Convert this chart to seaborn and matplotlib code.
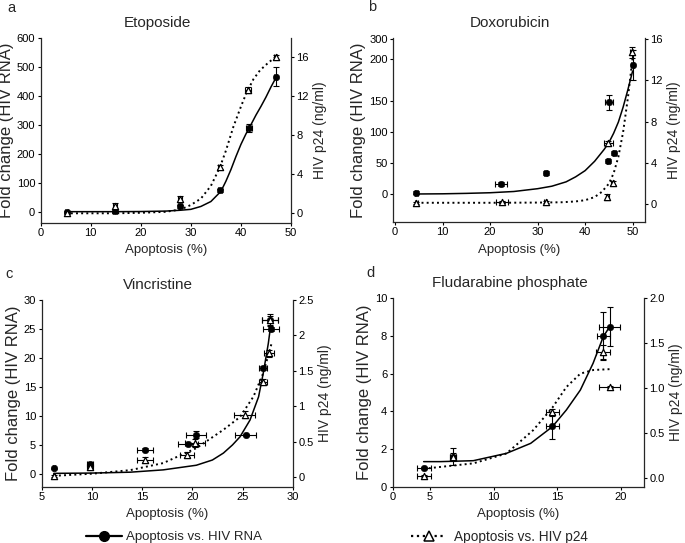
import matplotlib
matplotlib.use("Agg")
import matplotlib.pyplot as plt
import seaborn as sns
from matplotlib.lines import Line2D

# ---- panel a: Etoposide ----
a_rna_x = [5.2, 14.9, 27.8, 35.8, 41.6, 47.0]
a_rna_y = [0, 4, 18, 73, 289, 465]
a_rna_xerr = [0.3, 0.4, 0.4, 0.4, 0.6, 0.3]
a_rna_yerr = [3, 4, 5, 6, 14, 33]
a_p24_x = [5.2, 14.9, 27.8, 35.8, 41.5, 47.0]
a_p24_y = [0.0, 0.7, 1.5, 4.7, 12.6, 16.0]
a_p24_xerr = [0.3, 0.4, 0.4, 0.3, 0.6, 0.3]
a_p24_yerr = [0.1, 0.3, 0.3, 0.2, 0.3, 0.2]
a_fit_rna_x = [5, 10, 15, 20, 25, 28, 30, 32, 34, 36, 37, 38, 39, 40, 41, 42, 43, 44, 45, 46, 47]
a_fit_rna_y = [0, 0, 0, 0.5, 2, 5, 8, 18, 35, 70, 105, 145, 190, 232, 268, 300, 333, 363, 395, 430, 462]
a_fit_p24_x = [5, 10, 15, 20, 25, 28, 30, 32, 34, 35.8, 37, 38.5, 40, 41.1, 42.5, 43.8, 45.5, 47]
a_fit_p24_y = [0, 0, 0, 0.05, 0.15, 0.4, 0.85, 1.5, 2.8, 4.7, 6.4, 8.85, 10.9, 12.3, 13.7, 14.6, 15.4, 16.0]

# ---- panel b: Doxorubicin ----
b_rna_x = [4.5, 22.3, 31.7, 45.0, 44.9, 46.1, 50.0]
b_rna_y = [2.6, 16, 34, 148, 54, 66, 208]
b_rna_xerr = [0.3, 1.3, 0.3, 0.9, 0.3, 0.3, 0.3]
b_rna_yerr = [2, 3, 3, 12, 3, 3, 24]
b_p24_x = [4.5, 22.5, 31.7, 44.9, 44.7, 45.8, 49.8]
b_p24_y = [0.15, 0.25, 0.2, 5.9, 0.7, 2.1, 14.7]
b_p24_xerr = [0.3, 1.3, 0.3, 0.9, 0.3, 0.3, 0.3]
b_p24_yerr = [0.1, 0.1, 0.1, 0.2, 0.3, 0.2, 0.5]
b_fit_rna_x = [4.5, 10, 15, 20, 25, 30, 33, 36, 38, 40, 42, 44, 45, 46, 47, 48, 49, 50]
b_fit_rna_y = [0.5, 0.8, 1.5, 2.5, 4.5, 9, 13, 20, 28, 38, 53, 72, 83, 98, 116, 140, 168, 198]
b_fit_p24_x = [4.5, 10, 20, 30, 35, 38, 40, 42, 43.5, 45, 46, 47, 48, 49, 50]
b_fit_p24_y = [0.15, 0.15, 0.15, 0.17, 0.2, 0.28, 0.4, 0.7, 1.2, 2.0, 3.0, 4.6, 7.0, 10.3, 14.2]
b_left_ticks = [0, 50, 100, 150, 217, 250]
b_left_labels = ["0", "50", "100", "150", "200", "300"]

# ---- panel c: Vincristine ----
c_rna_x = [6.2, 9.8, 15.3, 19.6, 20.4, 25.3, 27.0, 27.8, 27.7]
c_rna_y = [1.0, 1.7, 4.2, 5.2, 6.8, 6.7, 18.3, 25.0, 26.5]
c_rna_xerr = [0.1, 0.3, 0.8, 1.0, 1.0, 1.0, 0.4, 0.8, 0.8]
c_rna_yerr = [0.1, 0.3, 0.2, 0.2, 0.6, 0.2, 0.4, 0.4, 0.8]
c_p24_x = [6.2, 9.8, 15.3, 19.5, 20.3, 25.2, 27.0, 27.6, 27.7]
c_p24_y = [0.02, 0.14, 0.25, 0.32, 0.48, 0.88, 1.35, 1.75, 2.22]
c_p24_xerr = [0.1, 0.3, 0.8, 0.7, 1.0, 1.0, 0.4, 0.5, 0.8]
c_p24_yerr = [0.01, 0.03, 0.03, 0.03, 0.06, 0.05, 0.03, 0.05, 0.08]
c_fit_rna_x = [6.2, 10, 13.8, 17.1, 20.4, 22, 23.1, 24, 24.75, 25.75, 26.6, 27.07, 27.57, 27.8]
c_fit_rna_y = [0.1, 0.15, 0.3, 0.7, 1.5, 2.4, 3.6, 5.0, 6.4, 9.3, 13.3, 17.4, 22.5, 25.5]
c_fit_p24_x = [6.2, 10, 13.8, 17.1, 20.4, 23.1, 24.75, 26.1, 27.07, 27.9]
c_fit_p24_y = [0.02, 0.05, 0.1, 0.2, 0.41, 0.67, 0.85, 1.14, 1.47, 1.89]

# ---- panel d: Fludarabine phosphate ----
d_rna_x = [4.5, 6.8, 14.6, 18.6, 19.1]
d_rna_y = [1.0, 1.6, 3.2, 8.0, 8.5]
d_rna_xerr = [0.55, 0.2, 0.5, 0.5, 0.8]
d_rna_yerr = [0.05, 0.45, 0.65, 1.25, 1.05]
d_p24_x = [4.5, 6.8, 14.6, 18.6, 19.1]
d_p24_y = [0.02, 0.23, 0.73, 1.40, 1.01]
d_p24_xerr = [0.55, 0.2, 0.5, 0.55, 0.8]
d_p24_yerr = [0.01, 0.04, 0.04, 0.08, 0.01]
d_fit_rna_x = [4.5, 5.8, 8.4, 11.0, 12.9, 14.6, 15.7, 16.8, 17.8, 18.6, 19.1]
d_fit_rna_y = [1.33, 1.33, 1.38, 1.77, 2.3, 3.18, 4.07, 5.13, 6.55, 7.96, 8.49]
d_fit_p24_x = [4.5, 5.8, 8.4, 11.0, 13.1, 14.6, 15.7, 16.8, 17.8, 19.1]
d_fit_p24_y = [0.1, 0.12, 0.16, 0.27, 0.53, 0.78, 1.01, 1.16, 1.2, 1.21]
d_x_ticks = [2.1, 5, 10, 15, 20]
d_x_labels = ["0", "5", "10", "15", "20"]

sns.set_theme(style="ticks")
plt.rcParams["font.family"] = ["Liberation Sans", "DejaVu Sans"]
plt.rcParams["xtick.major.size"] = 2.5
plt.rcParams["ytick.major.size"] = 2.5
plt.rcParams["xtick.major.width"] = 0.8
plt.rcParams["ytick.major.width"] = 0.8
plt.rcParams["axes.linewidth"] = 0.9

fig = plt.figure(figsize=(6.85, 5.43), dpi=100)


def panel(rect, title, rna, p24, fit_rna, fit_p24, xlim, ylim, y2lim):
    ax = fig.add_axes(rect)
    ax2 = ax.twinx()
    # fitted curves
    sns.lineplot(x=fit_rna[0], y=fit_rna[1], ax=ax, color="black", lw=1.1,
                 sort=False, estimator=None)
    sns.lineplot(x=fit_p24[0], y=fit_p24[1], ax=ax2, color="black", lw=1.4,
                 linestyle=":", sort=False, estimator=None)
    # error bars + markers
    ax.errorbar(rna[0], rna[1], xerr=rna[2], yerr=rna[3], fmt="none",
                ecolor="black", elinewidth=0.8, capsize=2, capthick=0.8, zorder=3)
    sns.scatterplot(x=rna[0], y=rna[1], ax=ax, marker="o", s=22, color="black",
                    edgecolor="black", zorder=4)
    ax2.errorbar(p24[0], p24[1], xerr=p24[2], yerr=p24[3], fmt="none",
                 ecolor="black", elinewidth=0.8, capsize=2, capthick=0.8, zorder=3)
    sns.scatterplot(x=p24[0], y=p24[1], ax=ax2, marker="^", s=20, color="white",
                    edgecolor="black", linewidth=0.9, zorder=4)

    ax.set_xlim(*xlim)
    ax.set_ylim(*ylim)
    ax2.set_ylim(*y2lim)
    for s in ["top", "right"]:
        ax.spines[s].set_visible(False)
    for s in ["top", "left", "bottom"]:
        ax2.spines[s].set_visible(False)
    ax.tick_params(labelsize=8, pad=1.5, colors="black")
    ax2.tick_params(labelsize=8, pad=1.5, colors="black")
    ax.set_xlabel("Apoptosis (%)", fontsize=9.5, labelpad=4.5)
    ax.set_ylabel("Fold change (HIV RNA)", fontsize=12, labelpad=2)
    ax2.set_ylabel("HIV p24 (ng/ml)", fontsize=10, labelpad=3)
    ax.set_title(title, fontsize=11, x=0.465, pad=8)
    return ax, ax2


ax, ax2 = panel([0.0594, 0.5899, 0.3654, 0.3407], "Etoposide",
                (a_rna_x, a_rna_y, a_rna_xerr, a_rna_yerr),
                (a_p24_x, a_p24_y, a_p24_xerr, a_p24_yerr),
                (a_fit_rna_x, a_fit_rna_y), (a_fit_p24_x, a_fit_p24_y),
                (0, 50), (-38, 600), (-0.96, 17.94))
ax.set_xticks(range(0, 51, 10))
ax.set_yticks(range(0, 601, 100))
ax2.set_yticks([0, 4, 8, 12, 16])

ax, ax2 = panel([0.5742, 0.5917, 0.3674, 0.3378], "Doxorubicin",
                (b_rna_x, b_rna_y, b_rna_xerr, b_rna_yerr),
                (b_p24_x, b_p24_y, b_p24_xerr, b_p24_yerr),
                (b_fit_rna_x, b_fit_rna_y), (b_fit_p24_x, b_fit_p24_y),
                (-0.35, 52.6), (-44, 250.5), (-1.68, 16.06))
ax.set_xticks(range(0, 51, 10))
ax.set_yticks(b_left_ticks)
ax.set_yticklabels(b_left_labels)
ax2.set_yticks([0, 4, 8, 12, 16])

ax, ax2 = panel([0.0609, 0.1037, 0.3664, 0.3438], "Vincristine",
                (c_rna_x, c_rna_y, c_rna_xerr, c_rna_yerr),
                (c_p24_x, c_p24_y, c_p24_xerr, c_p24_yerr),
                (c_fit_rna_x, c_fit_rna_y), (c_fit_p24_x, c_fit_p24_y),
                (5, 30), (-2.2, 30), (-0.133, 2.5))
ax.set_xticks(range(5, 31, 5))
ax.set_yticks(range(0, 31, 5))
ax2.set_yticks([0, 0.5, 1, 1.5, 2, 2.5])
ax2.set_yticklabels(["0", "0.5", "1", "1.5", "2", "2.5"])

ax, ax2 = panel([0.5733, 0.1037, 0.3669, 0.3470], "Fludarabine phosphate",
                (d_rna_x, d_rna_y, d_rna_xerr, d_rna_yerr),
                (d_p24_x, d_p24_y, d_p24_xerr, d_p24_yerr),
                (d_fit_rna_x, d_fit_rna_y), (d_fit_p24_x, d_fit_p24_y),
                (2.07, 21.8), (0, 10), (-0.1, 2.0))
ax.set_xticks(d_x_ticks)
ax.set_xticklabels(d_x_labels)
ax.set_yticks(range(0, 11, 2))
ax2.set_yticks([0, 0.5, 1.0, 1.5, 2.0])
ax2.set_yticklabels(["0.0", "0.5", "1.0", "1.5", "2.0"])

# panel letters
for letter, px, py in [("a", 7, 8), ("b", 368, 7), ("c", 5, 274), ("d", 366, 273)]:
    fig.text(px / 685, 1 - py / 543, letter, fontsize=10.5, ha="left", va="center")

# legend along the bottom
h1 = Line2D([], [], color="black", lw=1.6, marker="o", markersize=7)
h2 = Line2D([], [], color="black", lw=1.6, linestyle=":", marker="^",
            markersize=7, markerfacecolor="white", markeredgewidth=1.1)
fig.legend(handles=[h1], labels=["Apoptosis vs. HIV RNA"], loc="center left",
           bbox_to_anchor=(86 / 685, 1 - 537 / 543), frameon=False,
           fontsize=9.5, handlelength=2.7, handletextpad=0.3, borderpad=0,
           borderaxespad=0)
fig.legend(handles=[h2], labels=["Apoptosis vs. HIV p24"], loc="center left",
           bbox_to_anchor=(411 / 685, 1 - 537 / 543), frameon=False,
           fontsize=9.8, handlelength=2.6, handletextpad=0.55, borderpad=0,
           borderaxespad=0)

fig.savefig("out.png", dpi=100)
